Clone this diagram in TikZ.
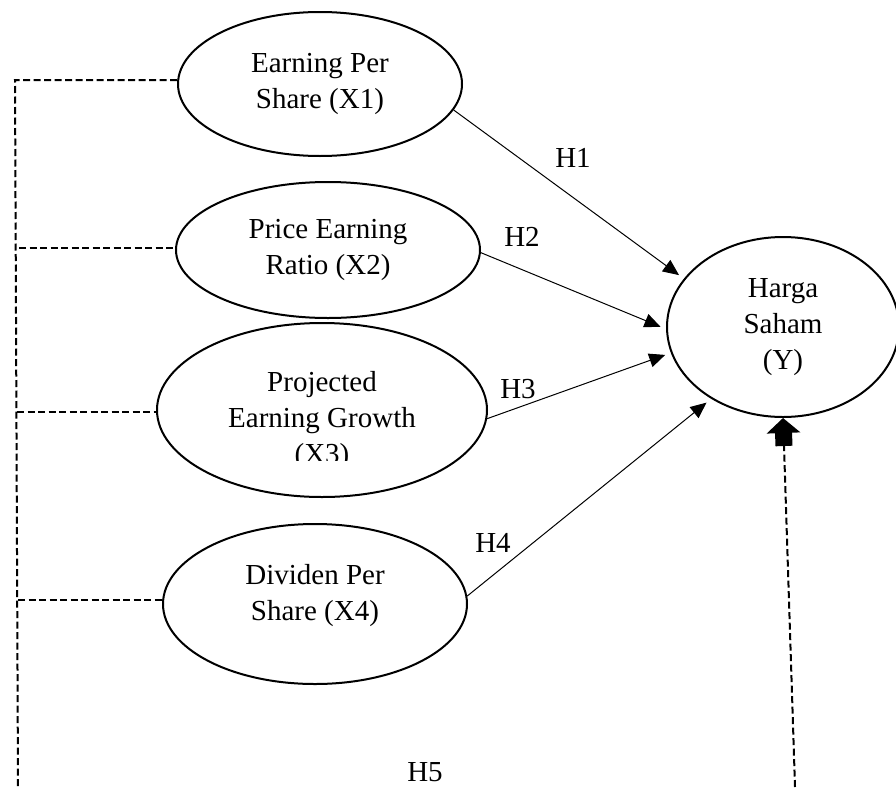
\documentclass[tikz,border=0pt]{standalone}
\usepackage{fontspec}
\setmainfont{Liberation Serif}
\usetikzlibrary{arrows.meta,shapes.geometric}

\tikzset{
  variabel/.style={draw, ellipse, line width=2pt, inner sep=0pt, align=center},
  teks/.style={align=center, inner sep=0pt},
  jalur/.style={line width=1pt, -{Triangle[length=16pt,width=14pt]}, shorten >=6pt},
  putus/.style={line width=2pt, dash pattern=on 7pt off 3.5pt},
  panahblok/.style={line width=17pt, -{Triangle[length=15pt,width=33pt]}}
}

\begin{document}
\begin{tikzpicture}[x=1pt,y=-1pt,font=\fontsize{29}{36}\selectfont]
   \useasboundingbox (0,0) rectangle (896,787);

   %Variabel X1
   \node[variabel, minimum width=284, minimum height=144] (eps) at (320,84) {Earning Per\\Share (X1)};
   %Variabel X2
   \node[variabel, minimum width=304, minimum height=136] (per) at (328,250) {Price Earning\\Ratio (X2)};
   %Variabel X3, baris terakhir terpotong
   \node[variabel, minimum width=330, minimum height=174] (peg) at (322,410) {};
   \begin{scope}
      \clip (150,330) rectangle (500,460);
      \node[teks] (pegteks) at (322,421) {Projected\\Earning Growth\\(X3)};
   \end{scope}
   %Variabel X4
   \node[variabel, minimum width=304, minimum height=160] (dps) at (315,604) {};
   \node[teks] (dpsteks) at (315,596) {Dividen Per\\Share (X4)};
   %Variabel Y
   \node[variabel, minimum width=232, minimum height=180] (harga) at (783,327) {Harga\\Saham\\(Y)};

   %Jalur H1 - H4
   \draw[jalur] (eps.-11) -- (harga.154);
   \draw[jalur] (per.-1) -- (harga.181);
   \draw[jalur] (peg.-3) -- (harga.193);
   \draw[jalur] (dps.3) -- (harga.225);

   \node (h1) at (573,158) {H1};
   \node (h2) at (522,237) {H2};
   \node (h3) at (518,389) {H3};
   \node (h4) at (493,543) {H4};
   \node (h5) at (425,772) {H5};

   %Garis putus-putus kiri
   \coordinate (ka) at (15,80);
   \coordinate (kb) at (18,787);
   \coordinate (k2) at (19,248);
   \coordinate (k3) at (17,412);
   \coordinate (k4) at (18,600);
   \draw[putus] (ka -| eps.west) -- (ka) -- (kb);
   \draw[putus] (k2) -- (k2 -| per.west);
   \draw[putus] (k3) -- (k3 -| peg.west);
   \draw[putus] (k4) -- (k4 -| dps.west);

   %Garis putus-putus kanan (H5)
   \coordinate (kc) at (795,787);
   \coordinate (kd) at (784,446);
   \draw[putus] (kc) -- (kd);
   \draw[panahblok] (kd) -- (harga.south);
\end{tikzpicture}
\end{document}
